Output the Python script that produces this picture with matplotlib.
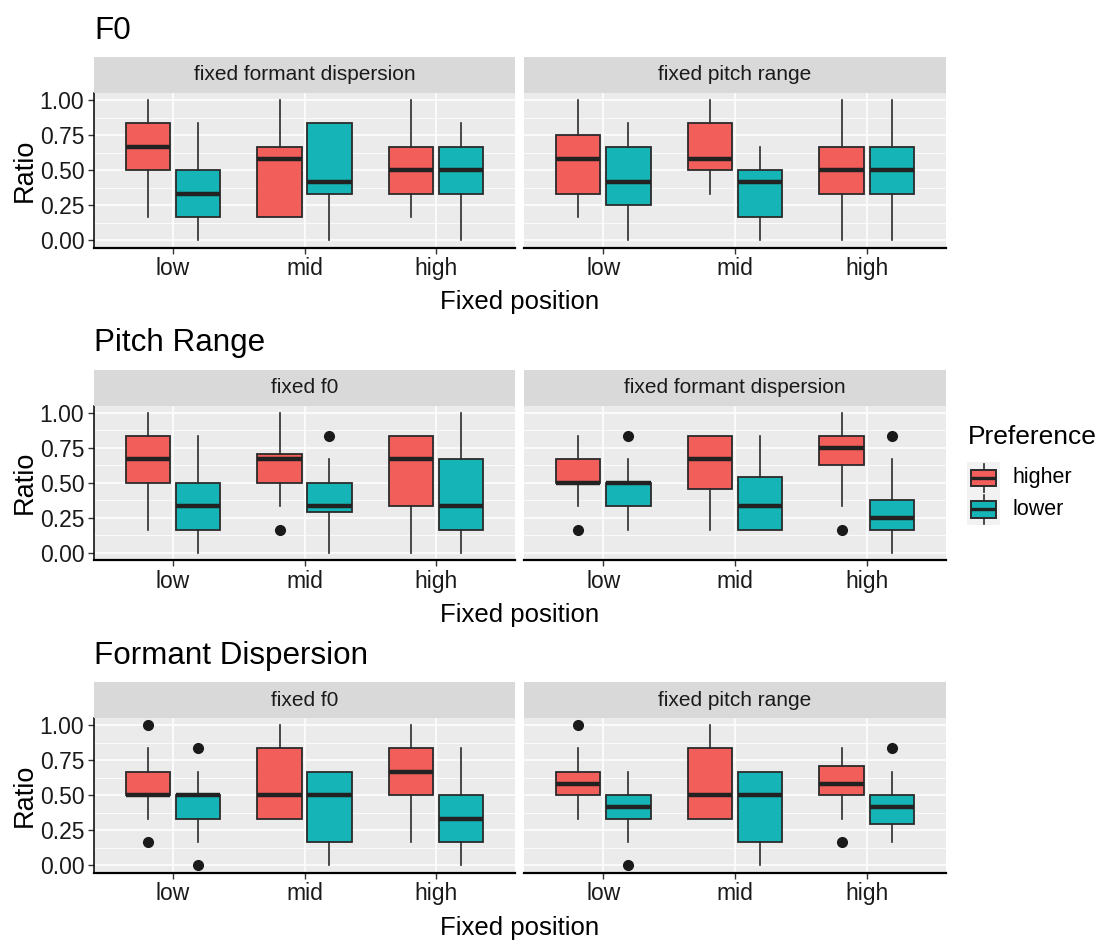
import matplotlib
matplotlib.use('Agg')
import matplotlib.pyplot as plt
from matplotlib.patches import Rectangle
import numpy as np

plt.rcParams['font.family'] = ['Liberation Sans', 'DejaVu Sans']

# ---------------------------------------------------------------
# data: each box = (whisker low, Q1, median, Q3, whisker high, outliers)
# order inside each list: low / mid / high
# ---------------------------------------------------------------
positions = ['low', 'mid', 'high']
groups = ['higher', 'lower']
row_titles = ['F0', 'Pitch Range', 'Formant Dispersion']
facet_labels = [['fixed formant dispersion', 'fixed pitch range'],
                ['fixed f0', 'fixed formant dispersion'],
                ['fixed f0', 'fixed pitch range']]
y_ticks = [0.0, 0.25, 0.5, 0.75, 1.0]
y_minor = [0.125, 0.375, 0.625, 0.875]

# F0
f0_fd_higher = [(0.167, 0.5, 0.667, 0.833, 1.0, []),
                (0.167, 0.167, 0.583, 0.667, 1.0, []),
                (0.167, 0.333, 0.5, 0.667, 1.0, [])]
f0_fd_lower = [(0.0, 0.167, 0.333, 0.5, 0.833, []),
               (0.0, 0.333, 0.417, 0.833, 0.833, []),
               (0.0, 0.333, 0.5, 0.667, 0.833, [])]
f0_pr_higher = [(0.167, 0.333, 0.583, 0.75, 1.0, []),
                (0.333, 0.5, 0.583, 0.833, 1.0, []),
                (0.0, 0.333, 0.5, 0.667, 1.0, [])]
f0_pr_lower = [(0.0, 0.25, 0.417, 0.667, 0.833, []),
               (0.0, 0.167, 0.417, 0.5, 0.667, []),
               (0.0, 0.333, 0.5, 0.667, 1.0, [])]

# Pitch Range
pr_f0_higher = [(0.167, 0.5, 0.667, 0.833, 1.0, []),
                (0.333, 0.5, 0.667, 0.708, 1.0, [0.167]),
                (0.0, 0.333, 0.667, 0.833, 0.833, [])]
pr_f0_lower = [(0.0, 0.167, 0.333, 0.5, 0.833, []),
               (0.0, 0.292, 0.333, 0.5, 0.667, [0.833]),
               (0.0, 0.167, 0.333, 0.667, 1.0, [])]
pr_fd_higher = [(0.333, 0.5, 0.5, 0.667, 0.833, [0.167]),
                (0.167, 0.458, 0.667, 0.833, 0.833, []),
                (0.333, 0.625, 0.75, 0.833, 1.0, [0.167])]
pr_fd_lower = [(0.167, 0.333, 0.495, 0.5, 0.667, [0.833]),
               (0.167, 0.167, 0.333, 0.542, 0.833, []),
               (0.0, 0.167, 0.25, 0.375, 0.667, [0.833])]

# Formant Dispersion
fd_f0_higher = [(0.333, 0.5, 0.5, 0.667, 0.833, [1.0, 0.167]),
                (0.333, 0.333, 0.5, 0.833, 1.0, []),
                (0.167, 0.5, 0.667, 0.833, 1.0, [])]
fd_f0_lower = [(0.167, 0.333, 0.5, 0.5, 0.667, [0.833, 0.0]),
               (0.0, 0.167, 0.5, 0.667, 0.667, []),
               (0.0, 0.167, 0.333, 0.5, 0.833, [])]
fd_pr_higher = [(0.333, 0.5, 0.583, 0.667, 0.833, [1.0]),
                (0.333, 0.333, 0.5, 0.833, 1.0, []),
                (0.333, 0.5, 0.583, 0.708, 0.833, [0.167])]
fd_pr_lower = [(0.167, 0.333, 0.417, 0.5, 0.667, [0.0]),
               (0.0, 0.167, 0.5, 0.667, 0.667, []),
               (0.167, 0.292, 0.417, 0.5, 0.667, [0.833])]

panels = [[(f0_fd_higher, f0_fd_lower), (f0_pr_higher, f0_pr_lower)],
          [(pr_f0_higher, pr_f0_lower), (pr_fd_higher, pr_fd_lower)],
          [(fd_f0_higher, fd_f0_lower), (fd_pr_higher, fd_pr_lower)]]

colors = {'higher': '#F25E5A', 'lower': '#14B4B7'}
edge = '#2B2B2B'

# ---------------------------------------------------------------
# layout (pixels of a 1098 x 942 figure)
# ---------------------------------------------------------------
W, H = 1098, 942
fig = plt.figure(figsize=(W / 100, H / 100), dpi=100)

facet_x = [(94, 515), (524, 946)]
row_top = [93, 405.5, 718]
panel_h = 154.5
strip_h = 36


def frac(x0, y0, x1, y1):
    return [x0 / W, 1 - y1 / H, (x1 - x0) / W, (y1 - y0) / H]


def to_stats(boxes):
    out = []
    for lo, q1, med, q3, hi, fl in boxes:
        out.append(dict(whislo=lo, q1=q1, med=med, q3=q3, whishi=hi, fliers=fl))
    return out


xs = np.arange(len(positions))
offset = 0.19
for r in range(3):
    top = row_top[r]
    bottom = top + panel_h
    for c in range(2):
        x0, x1 = facet_x[c]
        ax = fig.add_axes(frac(x0, top, x1, bottom))
        ax.set_facecolor('#EBEBEB')
        ax.set_axisbelow(True)
        for g, boxes in zip(groups, panels[r][c]):
            pos = xs - offset if g == 'higher' else xs + offset
            ax.bxp(to_stats(boxes), positions=pos, widths=0.34,
                   patch_artist=True, showcaps=False, manage_ticks=False,
                   boxprops=dict(facecolor=colors[g], edgecolor=edge, linewidth=1.3),
                   medianprops=dict(color='#222222', linewidth=3.2, solid_capstyle='butt'),
                   whiskerprops=dict(color=edge, linewidth=1.2),
                   flierprops=dict(marker='o', markerfacecolor='#1A1A1A',
                                   markeredgecolor='#1A1A1A', markersize=7))
        ax.set_xlim(-0.6, 2.6)
        ax.set_ylim(-0.05, 1.05)
        ax.set_xticks(xs)
        ax.set_xticklabels(positions)
        ax.set_yticks(y_ticks)
        ax.set_yticklabels(['%.2f' % v for v in y_ticks])
        ax.set_yticks(y_minor, minor=True)
        ax.grid(which='major', color='white', linewidth=1.1)
        ax.grid(which='minor', axis='y', color='white', linewidth=0.55)
        ax.tick_params(axis='both', which='major', labelsize=16.5, colors='#333333',
                       labelcolor='#1A1A1A', length=4, width=1.0, pad=3)
        ax.tick_params(axis='y', which='minor', length=0)
        for s in ['top', 'right']:
            ax.spines[s].set_visible(False)
        ax.spines['bottom'].set_linewidth(1.6)
        ax.spines['bottom'].set_color('black')
        if c == 0:
            ax.spines['left'].set_linewidth(1.1)
            ax.spines['left'].set_color('black')
        else:
            ax.spines['left'].set_visible(False)
            ax.tick_params(axis='y', which='both', left=False, labelleft=False)

        # strip on top of the facet
        sax = fig.add_axes(frac(x0, top - strip_h, x1, top))
        sax.set_facecolor('#D9D9D9')
        sax.set_xticks([])
        sax.set_yticks([])
        for s in sax.spines.values():
            s.set_visible(False)
        sax.text(0.5, 0.5, facet_labels[r][c], ha='center', va='center',
                 fontsize=15, color='#1A1A1A', transform=sax.transAxes)

    # row title, y label, x label
    fig.text(94 / W, 1 - (top - strip_h - 18) / H, row_titles[r],
             fontsize=22.6, ha='left', va='baseline', color='black')
    fig.text(25 / W, 1 - (top + panel_h / 2) / H, 'Ratio', rotation=90,
             fontsize=19.5, ha='center', va='center', color='black')
    fig.text(520 / W, 1 - (bottom + 55) / H, 'Fixed position',
             fontsize=18.5, ha='center', va='center', color='black')

# ---------------------------------------------------------------
# legend drawn by hand (pixel coordinates of the figure)
# ---------------------------------------------------------------
lx0, lx1, ly0, ly1 = 955, 1098, 410, 535
lax = fig.add_axes(frac(lx0, ly0, lx1, ly1))
lax.set_xlim(lx0, lx1)
lax.set_ylim(ly1, ly0)
lax.axis('off')
lax.text(968, 444, 'Preference', fontsize=19, ha='left', va='baseline')
key_w, key_h = 33, 31.5
for i, g in enumerate(groups):
    ky = 462 + i * key_h
    lax.add_patch(Rectangle((967, ky), key_w, key_h, facecolor='#F2F2F2',
                            edgecolor='none'))
    lax.add_patch(Rectangle((971, ky + 7.5), 25, 16.5, facecolor=colors[g],
                            edgecolor=edge, linewidth=1.4))
    lax.plot([971, 996], [ky + key_h / 2] * 2, color='#222222', lw=2.4,
             solid_capstyle='butt')
    lax.plot([983.5, 983.5], [ky + 1.5, ky + 7.5], color=edge, lw=1.2)
    lax.plot([983.5, 983.5], [ky + 24, ky + 30], color=edge, lw=1.2)
    lax.text(1013, ky + key_h / 2, g, fontsize=15.5, ha='left', va='center')

fig.savefig('out.png', dpi=100)
